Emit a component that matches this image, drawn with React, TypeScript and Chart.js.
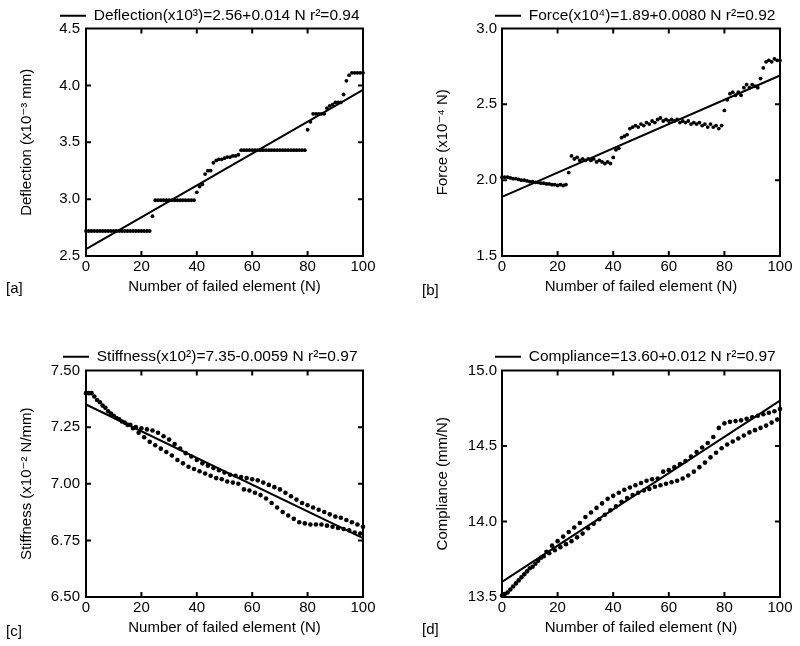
import React, { useEffect, useRef } from 'react';
import { Chart, registerables } from 'chart.js';

Chart.register(...registerables);

const FONT_FAMILY = '"Liberation Sans", Arial, "DejaVu Sans", sans-serif';
Chart.defaults.font.family = FONT_FAMILY;
Chart.defaults.color = '#000';

// ---------- shared x axis ----------
const xTicks = [0, 20, 40, 60, 80, 100];
const xTitle = 'Number of failed element (N)';
const fitN = [0, 100];

// ---------- [a] Deflection (one value per N = 0..100) ----------
const deflection = [
  2.72, 2.72, 2.72, 2.72, 2.72, 2.72, 2.72, 2.72, 2.72, 2.72,
  2.72, 2.72, 2.72, 2.72, 2.72, 2.72, 2.72, 2.72, 2.72, 2.72,
  2.72, 2.72, 2.72, 2.72, 2.85, 2.99, 2.99, 2.99, 2.99, 2.99,
  2.99, 2.99, 2.99, 2.99, 2.99, 2.99, 2.99, 2.99, 2.99, 2.99,
  3.06, 3.11, 3.13, 3.22, 3.25, 3.25, 3.32, 3.34, 3.35, 3.35,
  3.36, 3.37, 3.37, 3.38, 3.38, 3.39, 3.43, 3.43, 3.43, 3.43,
  3.43, 3.43, 3.43, 3.43, 3.43, 3.43, 3.43, 3.43, 3.43, 3.43,
  3.43, 3.43, 3.43, 3.43, 3.43, 3.43, 3.43, 3.43, 3.43, 3.43,
  3.61, 3.68, 3.75, 3.75, 3.75, 3.75, 3.75, 3.80, 3.82, 3.83,
  3.85, 3.85, 3.85, 3.92, 4.04, 4.09, 4.11, 4.11, 4.11, 4.11,
  4.11,
];
const deflectionFit = [2.56, 3.96];
const deflectionTicks = [2.5, 3.0, 3.5, 4.0, 4.5];

// ---------- [b] Force (one value per N = 0..100) ----------
const force = [
  2.02, 2.02, 2.02, 2.015, 2.01, 2.01, 2.005, 2.0, 2.0, 1.995,
  1.99, 1.99, 1.985, 1.985, 1.98, 1.98, 1.975, 1.975, 1.97, 1.97,
  1.965, 1.97, 1.965, 1.97, 2.05, 2.16, 2.14, 2.15, 2.13, 2.14,
  2.13, 2.14, 2.13, 2.14, 2.12, 2.13, 2.12, 2.11, 2.12, 2.11,
  2.15, 2.20, 2.21, 2.28, 2.29, 2.30, 2.34, 2.35, 2.36, 2.35,
  2.37, 2.36, 2.38, 2.37, 2.39, 2.38, 2.40, 2.41, 2.39, 2.40,
  2.39, 2.40, 2.39, 2.40, 2.38, 2.39, 2.38, 2.39, 2.37, 2.38,
  2.37, 2.38, 2.36, 2.37, 2.35, 2.37, 2.35, 2.36, 2.34, 2.36,
  2.46, 2.53, 2.57, 2.58, 2.56, 2.58, 2.56, 2.61, 2.63, 2.61,
  2.63, 2.62, 2.61, 2.67, 2.74, 2.78, 2.79, 2.78, 2.80, 2.79,
  2.79,
];
const forceFit = [1.89, 2.69];
const forceTicks = [1.5, 2.0, 2.5, 3.0];

// ---------- [c] Stiffness: even N (0..100) and odd N (1..99) ----------
const stiffnessEven = [
  7.40, 7.40, 7.37, 7.345, 7.32, 7.30, 7.285, 7.27, 7.26, 7.25,
  7.245, 7.24, 7.235, 7.225, 7.21, 7.195, 7.175, 7.155, 7.135, 7.12,
  7.105, 7.09, 7.08, 7.07, 7.06, 7.05, 7.04, 7.035, 7.03, 7.025,
  7.02, 7.015, 7.005, 6.995, 6.985, 6.975, 6.96, 6.945, 6.93, 6.915,
  6.905, 6.895, 6.885, 6.875, 6.865, 6.855, 6.85, 6.84, 6.83, 6.82,
  6.81,
];
const stiffnessOdd = [
  7.40, 7.385, 7.36, 7.335, 7.31, 7.29, 7.275, 7.26, 7.245, 7.225,
  7.205, 7.185, 7.17, 7.155, 7.14, 7.125, 7.105, 7.09, 7.075, 7.065,
  7.055, 7.045, 7.035, 7.025, 7.02, 7.01, 7.005, 7.0, 6.975, 6.97,
  6.96, 6.95, 6.935, 6.915, 6.895, 6.875, 6.86, 6.845, 6.83, 6.825,
  6.82, 6.82, 6.82, 6.815, 6.81, 6.805, 6.80, 6.795, 6.785, 6.78,
];
const stiffnessFit = [7.35, 6.76];
const stiffnessTicks = [6.5, 6.75, 7.0, 7.25, 7.5];

// ---------- [d] Compliance: even N (0..100) and odd N (1..99) ----------
const complianceEven = [
  13.51, 13.53, 13.57, 13.61, 13.65, 13.69, 13.72, 13.76, 13.80, 13.84,
  13.87, 13.90, 13.93, 13.96, 13.99, 14.03, 14.06, 14.09, 14.12, 14.15,
  14.17, 14.19, 14.21, 14.225, 14.24, 14.255, 14.27, 14.28, 14.285, 14.33,
  14.34, 14.36, 14.38, 14.40, 14.43, 14.46, 14.49, 14.52, 14.56, 14.62,
  14.65, 14.66, 14.665, 14.67, 14.68, 14.69, 14.70, 14.71, 14.72, 14.73,
  14.745,
];
const complianceOdd = [
  13.52, 13.55, 13.59, 13.63, 13.67, 13.70, 13.74, 13.77, 13.79, 13.81,
  13.83, 13.85, 13.87, 13.895, 13.92, 13.955, 13.985, 14.015, 14.045, 14.075,
  14.10, 14.13, 14.155, 14.175, 14.19, 14.205, 14.215, 14.23, 14.24, 14.25,
  14.26, 14.27, 14.285, 14.305, 14.33, 14.36, 14.39, 14.425, 14.455, 14.485,
  14.51, 14.53, 14.55, 14.57, 14.59, 14.605, 14.62, 14.635, 14.655, 14.675,
];
const complianceFit = [13.60, 14.80];
const complianceTicks = [13.5, 14.0, 14.5, 15.0];

type Pt = { x: number; y: number };
const everyN = (arr: number[]): Pt[] => arr.map((y, i) => ({ x: i, y }));
const evenN = (arr: number[]): Pt[] => arr.map((y, i) => ({ x: 2 * i, y }));
const oddN = (arr: number[]): Pt[] => arr.map((y, i) => ({ x: 2 * i + 1, y }));
const fitPts = (arr: number[]): Pt[] => arr.map((y, i) => ({ x: fitN[i], y }));

type PanelSpec = {
  key: string;
  left: number; top: number; width: number; height: number;
  series: Pt[][];
  fit: Pt[];
  radius: number;
  yTicks: number[];
  decimals: number;
  yTitle: string;
  legend: string;
  pad: { left: number; right: number; top: number; bottom: number };
  yWidth: number;
  xHeight: number;
  yTickPad: number;
  legendTop: number;
  legendLeft: number;
};

const panels: PanelSpec[] = [
  {
    key: 'a', left: 0, top: 0, width: 400, height: 323,
    series: [everyN(deflection)], fit: fitPts(deflectionFit), radius: 1.9,
    yTicks: deflectionTicks, decimals: 1,
    yTitle: 'Deflection (x10\u207B\u00B3 mm)',
    legend: 'Deflection(x10\u00B3)=2.56+0.014 N r\u00B2=0.94',
    pad: { left: 18, right: 37, top: 3, bottom: 27 }, yWidth: 68, xHeight: 40, yTickPad: 6,
    legendTop: 8, legendLeft: 60,
  },
  {
    key: 'b', left: 400, top: 0, width: 400, height: 323,
    series: [everyN(force)], fit: fitPts(forceFit), radius: 1.9,
    yTicks: forceTicks, decimals: 1,
    yTitle: 'Force (x10\u207B\u2074 N)',
    legend: 'Force(x10\u2074)=1.89+0.0080 N r\u00B2=0.92',
    pad: { left: 33.5, right: 20, top: 3, bottom: 27 }, yWidth: 68.5, xHeight: 40, yTickPad: 5,
    legendTop: 8, legendLeft: 95,
  },
  {
    key: 'c', left: 0, top: 323, width: 400, height: 323,
    series: [evenN(stiffnessEven), oddN(stiffnessOdd)], fit: fitPts(stiffnessFit), radius: 2.3,
    yTicks: stiffnessTicks, decimals: 2,
    yTitle: 'Stiffness (x10\u207B\u00B2 N/mm)',
    legend: 'Stiffness(x10\u00B2)=7.35-0.0059 N r\u00B2=0.97',
    pad: { left: 18, right: 37, top: 22, bottom: 9 }, yWidth: 68, xHeight: 40, yTickPad: 6,
    legendTop: 26, legendLeft: 63,
  },
  {
    key: 'd', left: 400, top: 323, width: 400, height: 323,
    series: [evenN(complianceEven), oddN(complianceOdd)], fit: fitPts(complianceFit), radius: 2.3,
    yTicks: complianceTicks, decimals: 1,
    yTitle: 'Compliance (mm/N)',
    legend: 'Compliance=13.60+0.012 N r\u00B2=0.97',
    pad: { left: 33.5, right: 20, top: 22, bottom: 9 }, yWidth: 68.5, xHeight: 40, yTickPad: 5,
    legendTop: 26, legendLeft: 95,
  },
];

const panelLabels = [
  { text: '[a]', left: 6, top: 279 },
  { text: '[b]', left: 422, top: 281 },
  { text: '[c]', left: 6, top: 622 },
  { text: '[d]', left: 422, top: 620 },
];

function Panel({ spec }: { spec: PanelSpec }) {
  const ref = useRef<HTMLCanvasElement>(null);
  useEffect(() => {
    const s = spec;
    const framePlugin = {
      id: 'frame' + s.key,
      beforeDraw(chart: any) {
        const lg = chart.legend;
        if (lg) {
          const h = lg.height;
          const w = lg.width;
          lg.top = s.legendTop;
          lg.bottom = s.legendTop + h;
          lg.left = s.legendLeft;
          lg.right = s.legendLeft + w;
        }
      },
      afterDraw(chart: any) {
        const { ctx, chartArea } = chart;
        const { left, right, top, bottom } = chartArea;
        const xs = chart.scales.x;
        const ys = chart.scales.y;
        ctx.save();
        ctx.strokeStyle = '#000';
        ctx.lineWidth = 2;
        ctx.strokeRect(left, top, right - left, bottom - top);
        ctx.beginPath();
        const tl = 5;
        xTicks.slice(1, -1).forEach((v) => {
          const px = xs.getPixelForValue(v);
          ctx.moveTo(px, bottom);
          ctx.lineTo(px, bottom - tl);
          ctx.moveTo(px, top);
          ctx.lineTo(px, top + tl);
        });
        s.yTicks.slice(1, -1).forEach((v) => {
          const py = ys.getPixelForValue(v);
          ctx.moveTo(left, py);
          ctx.lineTo(left + tl, py);
          ctx.moveTo(right, py);
          ctx.lineTo(right - tl, py);
        });
        ctx.stroke();
        ctx.restore();
      },
    };

    const datasets: any[] = [
      {
        label: 'fit',
        data: s.fit,
        showLine: true,
        borderColor: '#000',
        backgroundColor: '#000',
        borderWidth: 2,
        pointRadius: 0,
        pointHoverRadius: 0,
        fill: false,
        clip: false,
      },
      ...s.series.map((d, i) => ({
        label: 'data' + i,
        data: d,
        showLine: false,
        pointRadius: s.radius,
        pointHoverRadius: s.radius,
        pointBackgroundColor: '#000',
        pointBorderWidth: 0,
        borderColor: '#000',
        backgroundColor: '#000',
        clip: false,
      })),
    ];

    const chart = new Chart(ref.current as HTMLCanvasElement, {
      type: 'scatter',
      data: { datasets },
      options: {
        responsive: false,
        animation: false,
        events: [],
        layout: { padding: s.pad },
        plugins: {
          tooltip: { enabled: false },
          legend: {
            display: true,
            position: 'top',
            align: 'start',
            labels: {
              padding: 0,
              boxWidth: 26,
              boxHeight: 2,
              color: '#000',
              font: { size: 15.5, family: FONT_FAMILY },
              generateLabels: () => [
                {
                  text: s.legend,
                  fillStyle: '#000',
                  strokeStyle: '#000',
                  lineWidth: 0,
                  hidden: false,
                  datasetIndex: 0,
                  fontColor: '#000',
                } as any,
              ],
            },
          },
        },
        scales: {
          x: {
            type: 'linear',
            min: 0,
            max: 100,
            grid: { display: false, drawTicks: false },
            border: { display: false },
            afterBuildTicks: (sc: any) => {
              sc.ticks = xTicks.map((v) => ({ value: v }));
            },
            afterFit: (sc: any) => {
              sc.height = s.xHeight;
            },
            ticks: {
              padding: 2,
              color: '#000',
              font: { size: 15 },
              maxRotation: 0,
              autoSkip: false,
              callback: (v: any) => String(v),
            },
            title: { display: true, text: xTitle, color: '#000', font: { size: 15 }, padding: 0 },
          },
          y: {
            type: 'linear',
            min: s.yTicks[0],
            max: s.yTicks[s.yTicks.length - 1],
            grid: { display: false, drawTicks: false },
            border: { display: false },
            afterBuildTicks: (sc: any) => {
              sc.ticks = s.yTicks.map((v) => ({ value: v }));
            },
            afterFit: (sc: any) => {
              sc.width = s.yWidth;
            },
            ticks: {
              padding: s.yTickPad,
              color: '#000',
              font: { size: 15 },
              autoSkip: false,
              callback: (v: any) => Number(v).toFixed(s.decimals),
            },
            title: { display: true, text: s.yTitle, color: '#000', font: { size: 15 }, padding: 0 },
          },
        },
      } as any,
      plugins: [framePlugin],
    });
    return () => chart.destroy();
  }, [spec]);

  return (
    <canvas
      ref={ref}
      width={spec.width}
      height={spec.height}
      style={{ position: 'absolute', left: spec.left, top: spec.top, width: spec.width, height: spec.height }}
    />
  );
}

export default function App() {
  return (
    <div
      style={{
        position: 'absolute',
        left: 0,
        top: 0,
        width: 800,
        height: 646,
        background: '#fff',
        fontFamily: FONT_FAMILY,
        overflow: 'hidden',
      }}
    >
      {panels.map((p) => (
        <Panel key={p.key} spec={p} />
      ))}
      {panelLabels.map((l) => (
        <div
          key={l.text}
          style={{ position: 'absolute', left: l.left, top: l.top, fontSize: 15, lineHeight: '18px', color: '#000' }}
        >
          {l.text}
        </div>
      ))}
    </div>
  );
}
